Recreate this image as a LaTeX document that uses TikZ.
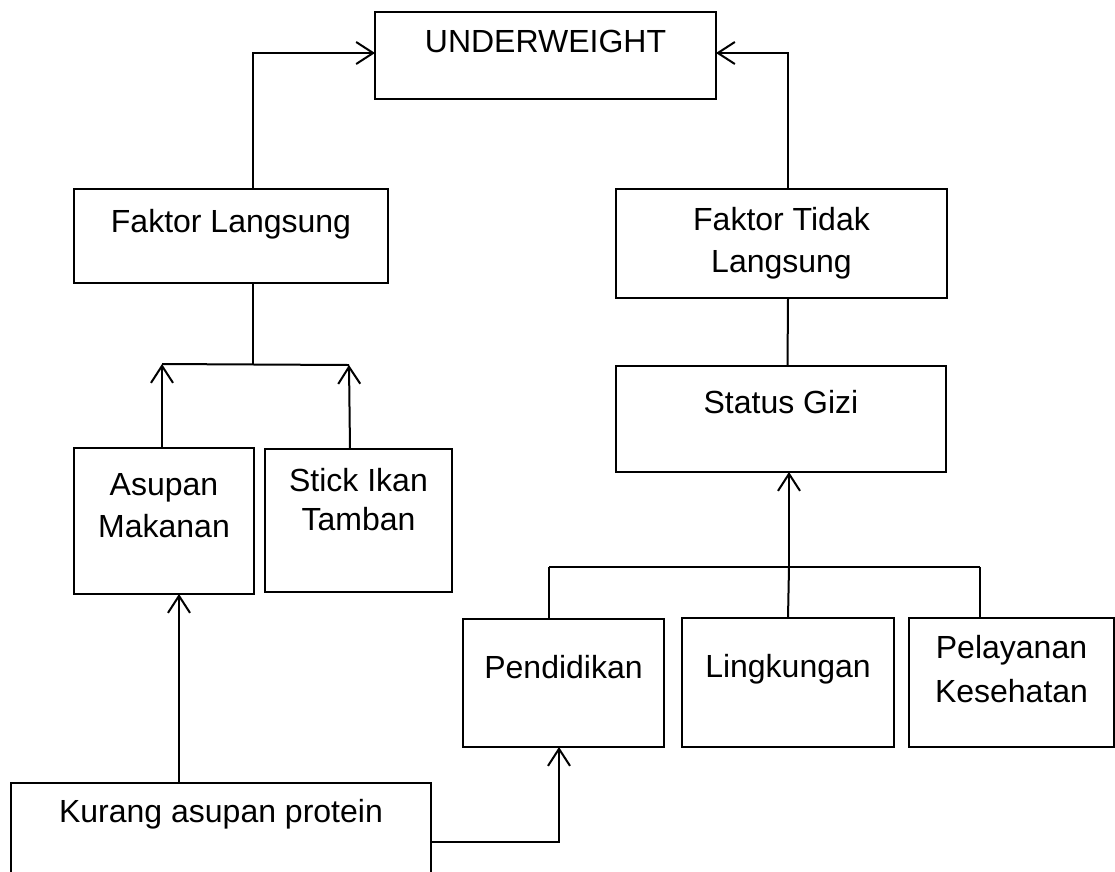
\documentclass[tikz,border=0pt]{standalone}
\usepackage{fontspec}
\setmainfont{Liberation Sans}
\usetikzlibrary{arrows.meta}
\begin{document}
\begin{tikzpicture}[x=1pt,y=-1pt,
  line width=2pt,
  box/.style={draw, inner sep=0pt, outer sep=0pt},
  txt/.style={anchor=base, inner sep=0pt, align=center, font=\fontsize{32}{42}\selectfont},
  arr/.style={-{Straight Barb[length=17pt,width=22pt]}}]
\useasboundingbox (0,0) rectangle (1115,871);
\clip (0,0) rectangle (1115,871);
% boxes
\node[box, minimum width=341pt, minimum height=87pt] (uw) at (545.5,55.5) {};
\node[box, minimum width=314pt, minimum height=94pt] (fl) at (231,236) {};
\node[box, minimum width=331pt, minimum height=109pt] (ftl) at (781.5,243.5) {};
\node[box, minimum width=330pt, minimum height=106pt] (sg) at (781,419) {};
\node[box, minimum width=180pt, minimum height=146pt] (am) at (164,521) {};
\node[box, minimum width=187pt, minimum height=143pt] (st) at (358.5,520.5) {};
\node[box, minimum width=201pt, minimum height=128pt] (pd) at (563.5,683) {};
\node[box, minimum width=212pt, minimum height=129pt] (lk) at (788,682.5) {};
\node[box, minimum width=205pt, minimum height=129pt] (pk) at (1011.5,682.5) {};
\node[box, minimum width=420pt, minimum height=107pt] (kp) at (221,836.5) {};
% texts (base anchor = baseline of the last line)
\node[txt] (uwt) at (545.5,52) {UNDERWEIGHT};
\node[txt] (flt) at (231,232) {Faktor Langsung};
\node[txt] (ftlt) at (781.5,272) {Faktor Tidak\\Langsung};
\node[txt] (sgt) at (781,413) {Status Gizi};
\node[txt] (amt) at (164,537) {Asupan\\Makanan};
\node[txt] (stt) at (358.5,530) {Stick Ikan\\[-3pt]Tamban};
\node[txt] (pdt) at (563.5,678) {Pendidikan};
\node[txt] (lkt) at (788,677) {Lingkungan};
\node[txt] (pkt) at (1011.5,702) {Pelayanan\\[2pt]Kesehatan};
\node[txt] (kpt) at (221,822) {Kurang asupan protein};
% junctions
\coordinate (jL) at (162,364);
\coordinate (jR) at (349,365);
\coordinate (jM) at (253,364.5);
\coordinate (kL) at (549,567);
\coordinate (kM) at (789,567);
\coordinate (kR) at (980,567);
% connectors
\draw[arr] ([xshift=22pt]fl.north) |- ([yshift=2.5pt]uw.west);
\draw[arr] ([xshift=6.5pt]ftl.north) |- ([yshift=2.5pt]uw.east);
\draw ([xshift=22pt]fl.south) -- (jM);
\draw (jL) -- (jR);
\draw[arr] ([xshift=-2pt]am.north) -- (jL);
\draw[arr] ([xshift=-8.5pt]st.north) -- (jR);
\draw ([xshift=6.5pt]ftl.south) -- ([xshift=6.5pt]sg.north);
\draw (kL) -- (kR);
\draw (kL) -- ([xshift=-14.5pt]pd.north);
\draw (kM) -- (lk.north);
\draw (kR) -- ([xshift=-31.5pt]pk.north);
\draw[arr] (kM) -- ([xshift=8pt]sg.south);
\draw[arr] ([xshift=-42pt]kp.north) -- ([xshift=15pt]am.south);
\draw[arr] ([yshift=-5.5pt]kp.east) -| ([xshift=-4.5pt]pd.south);
\end{tikzpicture}
\end{document}
